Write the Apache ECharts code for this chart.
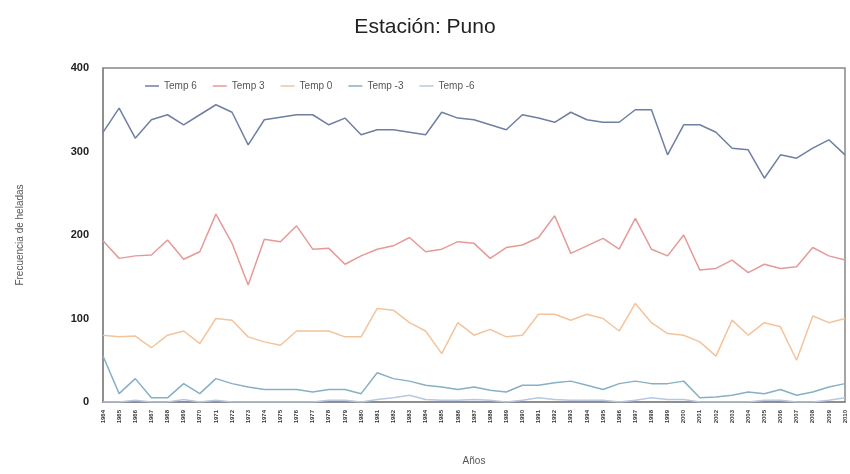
<!DOCTYPE html>
<html><head><meta charset="utf-8">
<script src="https://cdn.jsdelivr.net/npm/echarts@6/dist/echarts.min.js"></script>
<style>html,body{margin:0;background:#fff}#chartmain{width:850px;height:474px}</style>
</head><body>
<div id="chartmain"></div>
<script>
var years = [];
for (var y = 1964; y <= 2010; y++) years.push(String(y));
var temp6 = [323,352,316,338,344,332,344,356,347,308,338,341,344,344,332,340,320,326,326,323,320,347,340,338,332,326,344,340,335,347,338,335,335,350,350,296,332,332,323,304,302,268,296,292,304,314,296];
var temp3 = [193,172,175,176,194,171,180,225,190,140,195,192,211,183,184,165,175,183,187,197,180,183,192,190,172,185,188,197,223,178,187,196,183,220,183,175,200,158,160,170,155,165,160,162,185,175,170];
var temp0 = [80,78,79,65,80,85,70,100,98,78,72,68,85,85,85,78,78,112,110,95,85,58,95,80,87,78,80,105,105,98,105,100,85,118,95,82,80,72,55,98,80,95,90,50,103,95,100];
var tempm3 = [55,10,28,5,5,22,10,28,22,18,15,15,15,12,15,15,10,35,28,25,20,18,15,18,14,12,20,20,23,25,20,15,22,25,22,22,25,5,6,8,12,10,15,8,12,18,22];
var tempm6 = [0,0,2,0,0,3,0,2,0,0,0,0,0,0,2,2,0,3,5,8,3,2,2,3,2,0,2,5,3,2,2,2,0,2,5,3,3,0,0,0,0,2,2,0,0,2,5];
var names = ['Temp 6','Temp 3','Temp 0','Temp -3','Temp -6'];
var colors = ['#6f7fa3','#e59a98','#f3c49c','#86b0c4','#b8c7e2'];
var datas = [temp6, temp3, temp0, tempm3, tempm6];

var series = [];
for (var i = 0; i < names.length; i++) {
	series.push({
		name: names[i],
		type: 'line',
		data: datas[i],
		symbol: 'none',
		lineStyle: { width: 1.5 },
		z: 10 - i
	});
}
var option = {
	color: colors,
	title: {
		text: 'Estación: Puno',
		left: 'center',
		top: 12,
		textStyle: { fontFamily: 'Liberation Sans', fontSize: 21, fontWeight: 'normal', color: '#222' }
	},
	legend: {
		data: names,
		top: 76,
		left: 140,
		itemWidth: 14,
		itemGap: 16,
		icon: 'path://M0,0 L14,0 L14,1.5 L0,1.5 Z',
		textStyle: { fontSize: 10, color: '#555', fontFamily: 'Liberation Sans' }
	},
	grid: { left: 103, right: 5, top: 68, bottom: 72, show: true, borderColor: '#888', borderWidth: 1.5 },
	xAxis: {
		type: 'category',
		data: years,
		boundaryGap: false,
		name: 'Años',
		nameLocation: 'middle',
		nameGap: 54,
		nameTextStyle: { fontSize: 10, color: '#555' },
		axisLine: { lineStyle: { color: '#888', width: 1.5 } },
		axisTick: { show: false },
		axisLabel: { rotate: 90, interval: 0, fontSize: 6, color: '#333', fontWeight: 'bold' }
	},
	yAxis: {
		type: 'value',
		min: 0, max: 400, interval: 100,
		name: 'Frecuencia de heladas',
		nameLocation: 'middle',
		nameGap: 78,
		nameTextStyle: { fontSize: 10, color: '#555' },
		axisLine: { show: true, lineStyle: { color: '#888', width: 1.5 } },
		axisTick: { show: false },
		splitLine: { show: false },
		axisLabel: { fontSize: 11, fontWeight: 'bold', color: '#222', margin: 14 }
	},
	series: series
};
var myChart = echarts.init(document.getElementById('chartmain'));
myChart.setOption(option);
</script>
</body></html>
